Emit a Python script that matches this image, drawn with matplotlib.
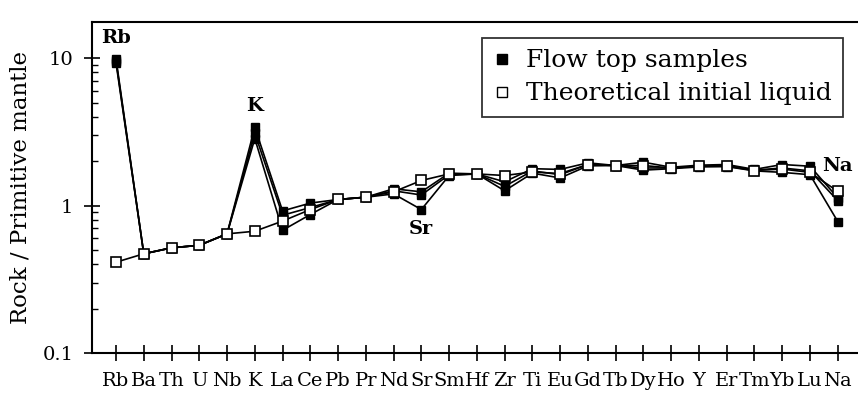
import matplotlib
matplotlib.use("Agg")
import matplotlib.pyplot as plt
from matplotlib.lines import Line2D
from matplotlib.ticker import FixedLocator, LogLocator, NullFormatter

elements = ["Rb", "Ba", "Th", "U", "Nb", "K", "La", "Ce", "Pb", "Pr", "Nd", "Sr", "Sm",
            "Hf", "Zr", "Ti", "Eu", "Gd", "Tb", "Dy", "Ho", "Y", "Er", "Tm", "Yb", "Lu", "Na"]

theoretical = [0.413, 0.471, 0.517, 0.538, 0.643, 0.67, 0.785, 0.94, 1.10, 1.14, 1.24, 1.48, 1.64,
               1.64, 1.60, 1.69, 1.65, 1.90, 1.87, 1.87, 1.80, 1.85, 1.85, 1.73, 1.77, 1.68, 1.25]

flow_a = [9.9, 0.471, 0.517, 0.538, 0.643, 3.4, 0.92, 1.04, 1.10, 1.14, 1.30, 1.24, 1.66,
          1.64, 1.45, 1.78, 1.76, 1.95, 1.87, 1.97, 1.82, 1.88, 1.90, 1.76, 1.90, 1.85, 1.13]
flow_b = [9.6, 0.471, 0.517, 0.538, 0.643, 3.1, 0.86, 0.97, 1.10, 1.14, 1.26, 1.18, 1.62,
          1.64, 1.35, 1.72, 1.62, 1.90, 1.87, 1.80, 1.80, 1.85, 1.87, 1.74, 1.80, 1.72, 1.08]
flow_c = [9.3, 0.471, 0.517, 0.538, 0.643, 2.85, 0.68, 0.87, 1.10, 1.14, 1.20, 0.94, 1.60,
          1.64, 1.26, 1.66, 1.54, 1.86, 1.87, 1.74, 1.78, 1.83, 1.84, 1.72, 1.68, 1.62, 0.78]

annotations = [("Rb", 0), ("K", 5), ("Sr", 11), ("Na", 26)]
annot_values = [13.8, 4.75, 0.69, 1.87]

legend_labels = ["Flow top samples", "Theoretical initial liquid"]
ylabel = "Rock / Primitive mantle"

SERIF = ["DejaVu Serif"]
plt.rcParams["font.family"] = SERIF

fig = plt.figure(figsize=(8.58, 4.0), dpi=100)
ax = fig.add_axes([92 / 858, 47 / 400, 1 - 92 / 858, (353 - 22) / 400])

x = list(range(len(elements)))
for series in (flow_a, flow_b, flow_c):
    ax.plot(x, series, color="black", lw=1.2, marker="s", ms=6,
            markerfacecolor="black", markeredgecolor="black", zorder=2)
ax.plot(x, theoretical, color="black", lw=1.2, marker="s", ms=6.5,
        markerfacecolor="white", markeredgecolor="black", markeredgewidth=1.2, zorder=3)

ax.set_yscale("log")
ax.set_ylim(0.1, 17.6)
ax.set_xlim(-0.865, 26.73)

ax.set_xticks(x)
ax.set_xticklabels(elements, fontsize=14)
ax.yaxis.set_major_locator(FixedLocator([0.1, 1, 10]))
ax.set_yticklabels(["0.1", "1", "10"], fontsize=14)
ax.yaxis.set_minor_locator(LogLocator(base=10, subs=range(2, 10)))
ax.yaxis.set_minor_formatter(NullFormatter())

ax.tick_params(axis="x", which="major", direction="inout", length=11, width=1.2, pad=8)
ax.tick_params(axis="y", which="major", direction="inout", length=11, width=1.2, pad=8)
ax.tick_params(axis="y", which="minor", direction="in", length=4, width=1.0)

for side in ("left", "bottom", "top"):
    ax.spines[side].set_linewidth(1.5)
ax.spines["right"].set_visible(False)

ax.set_ylabel(ylabel, fontsize=16.5, labelpad=8)

for (txt, idx), yv in zip(annotations, annot_values):
    ax.text(idx, yv, txt, ha="center", va="center", fontsize=14, fontweight="bold")

handles = [Line2D([], [], ls="none", marker="s", ms=7, markerfacecolor="black", markeredgecolor="black"),
           Line2D([], [], ls="none", marker="s", ms=7, markerfacecolor="white", markeredgecolor="black")]
leg = ax.legend(handles, legend_labels, loc="upper right", fontsize=18, frameon=True, fancybox=False,
                handlelength=0.7, handletextpad=0.6, borderpad=0.45, labelspacing=0.4,
                borderaxespad=0)
leg.get_frame().set_edgecolor("black")
leg.get_frame().set_linewidth(1.3)
leg.set_bbox_to_anchor((843 / 858, 1 - 38 / 400), transform=fig.transFigure)

fig.savefig("out.png", dpi=100)
